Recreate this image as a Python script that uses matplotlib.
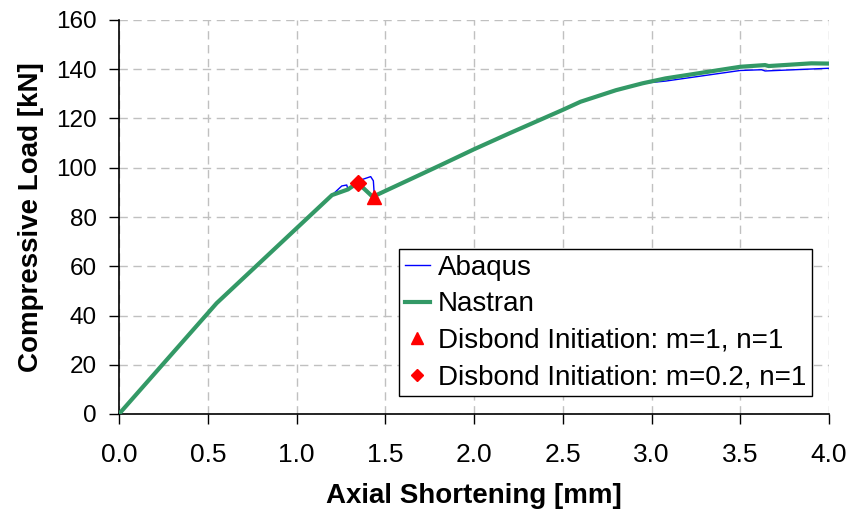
import matplotlib
matplotlib.use("Agg")
import matplotlib.pyplot as plt

plt.rcParams['font.family'] = ['Liberation Sans', 'DejaVu Sans']

abaqus_x = [0.0, 0.55, 1.2, 1.255, 1.283, 1.29, 1.345, 1.373, 1.418, 1.433, 1.44, 1.45,
            1.81, 2.0, 2.2, 2.5, 2.6, 2.8, 2.95, 3.08, 3.5, 3.62, 3.64, 4.0]
abaqus_y = [0.0, 45.0, 88.9, 92.6, 93.0, 91.2, 93.9, 95.3, 96.4, 94.7, 86.9, 88.9,
            101.0, 107.5, 114.0, 123.5, 126.8, 131.5, 134.3, 135.2, 139.5, 139.8, 139.3, 140.4]

nastran_x = [0.0, 0.55, 1.2, 1.29, 1.345, 1.438, 1.45, 1.81, 2.0, 2.2, 2.5, 2.6, 2.8,
             2.95, 3.08, 3.5, 3.64, 3.66, 3.9, 4.0]
nastran_y = [0.0, 45.0, 88.9, 91.2, 93.9, 87.6, 88.9, 101.0, 107.5, 114.0, 123.5, 126.8, 131.5,
             134.3, 136.3, 141.0, 141.7, 141.3, 142.4, 142.3]

tri_x, tri_y = [1.438], [88.0]
dia_x, dia_y = [1.345], [94.0]

x_ticks = [0.0, 0.5, 1.0, 1.5, 2.0, 2.5, 3.0, 3.5, 4.0]
y_ticks = [0, 20, 40, 60, 80, 100, 120, 140, 160]

fig = plt.figure(figsize=(8.55, 5.22), dpi=100)
ax = fig.add_axes([119/855, 1-414/522, 710/855, 394/522])

ax.plot(abaqus_x, abaqus_y, color='#0000FF', lw=1.0, label='Abaqus', zorder=3)
ax.plot(nastran_x, nastran_y, color='#339966', lw=3.0, label='Nastran', zorder=4)
ax.plot(tri_x, tri_y, ls='none', marker='^', color='#FF0000', ms=10,
        label='Disbond Initiation: m=1, n=1', zorder=5)
ax.plot(dia_x, dia_y, ls='none', marker='D', color='#FF0000', ms=8,
        label='Disbond Initiation: m=0.2, n=1', zorder=5)

ax.set_xlim(0, 4.0)
ax.set_ylim(0, 160)
ax.set_xticks(x_ticks)
ax.set_xticklabels([f"{v:.1f}" for v in x_ticks])
ax.set_yticks(y_ticks)
ax.set_yticklabels([str(v) for v in y_ticks])
ax.tick_params(axis='both', direction='out', length=7, width=1, color='black')
ax.tick_params(axis='x', labelsize=19, pad=14)
ax.tick_params(axis='y', labelsize=17.5, pad=9)
ax.grid(True, color='#c0c0c0', ls=(0, (6, 4)), lw=1)
ax.set_axisbelow(True)
for s in ['top', 'right']:
    ax.spines[s].set_visible(False)
for s in ['left', 'bottom']:
    ax.spines[s].set_linewidth(1.2)

ax.set_xlabel('Axial Shortening [mm]', fontsize=20, fontweight='bold', va='center')
ax.set_ylabel('Compressive Load [kN]', fontsize=20, fontweight='bold', va='center')
ax.xaxis.set_label_coords((474 - 119) / 710, (414 - 496) / 394)
ax.yaxis.set_label_coords((31 - 119) / 710, 0.5)

leg = ax.legend(loc='lower right', bbox_to_anchor=(0.976, 0.0457), fontsize=20,
                frameon=True, fancybox=False, edgecolor='black', framealpha=1,
                handlelength=0.9, handletextpad=0.3, borderpad=0.2, labelspacing=0.38,
                borderaxespad=0, markerscale=0.8)
leg.get_frame().set_linewidth(1.0)

fig.savefig('out.png', dpi=100)
